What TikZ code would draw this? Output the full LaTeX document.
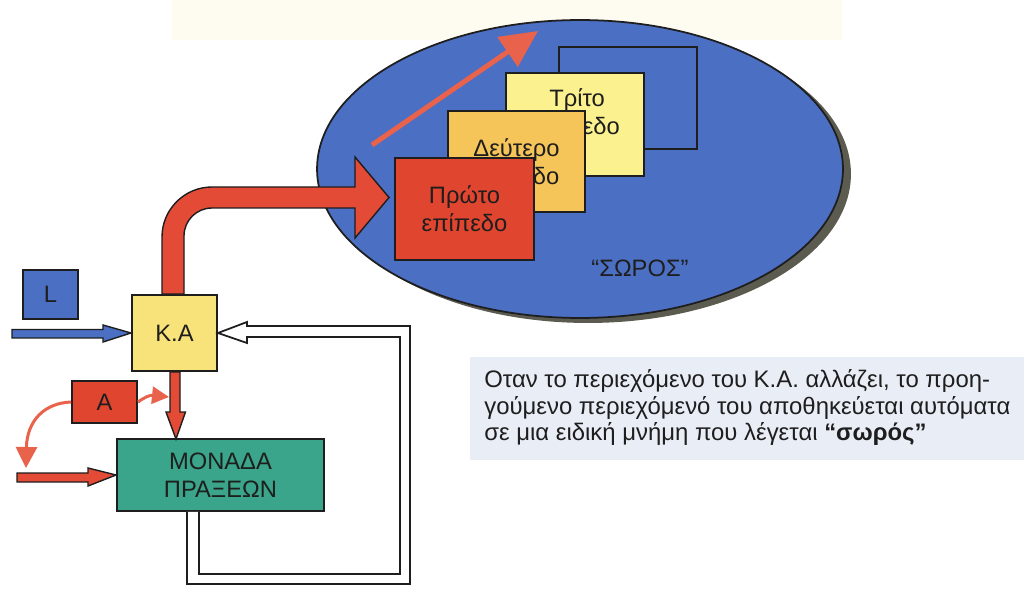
\documentclass[tikz,border=0pt]{standalone}
\usepackage{fontspec}
\setmainfont{Liberation Sans}
\usetikzlibrary{arrows.meta,calc,shapes.geometric}
\definecolor{ellblue}{HTML}{4B6FC2}
\definecolor{shadowc}{HTML}{5C5B50}
\definecolor{redA}{HTML}{E0452F}
\definecolor{redarrow}{HTML}{E34B36}
\definecolor{thinred}{HTML}{E8624C}
\definecolor{orangeB}{HTML}{F5C55A}
\definecolor{yellowC}{HTML}{FBF18E}
\definecolor{kayellow}{HTML}{F8E27A}
\definecolor{teal}{HTML}{3AA58A}
\definecolor{panel}{HTML}{E9EDF6}
\definecolor{topband}{HTML}{FEFCF0}
\definecolor{ink}{HTML}{1E1E1E}
\tikzset{
  box/.style={draw=ink, line width=1.1pt, inner sep=0pt, align=center, text=ink,
    font=\fontsize{13.5}{16}\selectfont},
  blockarrow/.style={draw=ink, line width=0.8pt},
}
\begin{document}
\begin{tikzpicture}[x=0.02cm,y=-0.02cm]
\useasboundingbox (0,0) rectangle (1024,594);
\fill[white] (0,0) rectangle (1024,594);
\fill[topband] (172,0) rectangle (842,40);

% heap ellipse with shadow
\node[ellipse, fill=shadowc, minimum width=10.52cm, minimum height=5.96cm, inner sep=0pt] (heapshadow) at (588,174) {};
\node[ellipse, draw=ink, line width=1pt, fill=ellblue, minimum width=10.52cm, minimum height=5.96cm, inner sep=0pt] (heap) at (580,169) {};

% thin rising arrow
\coordinate (rs) at (372,145);
\coordinate (re) at (538,31);
\draw[thinred, line width=0.1cm, -{Triangle[length=0.74cm,width=0.7cm]}] (rs) -- (re);

% stacked levels
\node[box, minimum width=2.76cm, minimum height=2.04cm] (back) at (628,98) {};
\node[box, fill=yellowC, minimum width=2.76cm, minimum height=2.06cm] (p3) at (575,124.5) {};
\node[text=ink, align=center, font=\fontsize{13.5}{16}\selectfont] (p3text) at (577,112) {Τρίτο\\επίπεδο};
\node[box, fill=orangeB, minimum width=2.74cm, minimum height=2.02cm] (p2) at (516.5,161.5) {Δεύτερο\\επίπεδο};
\node[box, fill=redA, minimum width=2.78cm, minimum height=2.04cm] (p1) at (464.5,209) {Πρώτο\\επίπεδο};

\node[text=ink, font=\fontsize{13.5}{16}\selectfont] (soros) at (640,268) {“ΣΩΡΟΣ”};

% lower-left boxes
\node[box, fill=ellblue, minimum width=1.10cm, minimum height=0.98cm] (L) at (50.5,294.5) {L};
\node[box, fill=kayellow, minimum width=1.70cm, minimum height=1.52cm] (ka) at (174.5,333) {Κ.Α};
\node[box, fill=redA, minimum width=1.30cm, minimum height=0.84cm] (a) at (104.5,402) {Α};
\node[box, fill=teal, minimum width=4.14cm, minimum height=1.44cm] (mon) at (220.5,475) {ΜΟΝΑΔΑ\\ΠΡΑΞΕΩΝ};

% big curved arrow from K.A to first level
\path[blockarrow, fill=redarrow]
  ($(ka.north)+(-12.5,0)$) -- (162,237) .. controls (162,209.4) and (184.4,187) .. (212,187)
  -- (355,187) -- (355,157) -- ($(p1.west)+(-5,-11.5)$) -- (355,238) -- (355,208) -- (212,208)
  .. controls (196.5,208) and (184,220.5) .. (184,236) -- ($(ka.north)+(9.5,0)$) -- cycle;

% blue input arrow into K.A
\path[blockarrow, fill=ellblue]
  (12,329.5) -- (103,329.5) -- (103,325) -- (ka.west) -- (103,342) -- (103,338) -- (12,338) -- cycle;

% red arrow K.A -> MONADA
\path[blockarrow, fill=redarrow]
  ($(ka.south)+(-4.5,0)$) -- (170,412) -- (166,412) -- (176,439) -- (185.5,412) -- (180,412) -- ($(ka.south)+(5.5,0)$) -- cycle;

% red input arrow into MONADA
\path[blockarrow, fill=redarrow]
  (17,473) -- (88,473) -- (88,468) -- (mon.west) -- (88,486) -- (88,482) -- (17,482) -- cycle;

% thin curved arrows from A
\draw[thinred, line width=0.06cm, -{Triangle[length=0.34cm,width=0.34cm]}]
  (a.east) .. controls (145,397) and (150,395) .. (169,397);
\draw[thinred, line width=0.06cm, -{Triangle[length=0.42cm,width=0.42cm]}]
  (a.west) .. controls (45,403) and (27,420) .. (26,468);

% hollow feedback arrow MONADA -> K.A
\path[draw=ink, line width=1pt, fill=white]
  ($(mon.south)+(-33.5,0)$) -- (187,584) -- (410,584) -- (410,326) -- (247,326) -- (247,322)
  -- (ka.east) -- (247,343) -- (247,337) -- (400,337) -- (400,574) -- (199,574)
  -- ($(mon.south)+(-21.5,0)$);

% explanatory text panel
\fill[panel] (470,357) rectangle (1024,460);
\node[anchor=north west, inner sep=0pt, align=left, text=ink,
  font=\fontsize{13.6}{15.2}\selectfont] (note) at (484,369)
  {Οταν το περιεχόμενο του Κ.Α. αλλάζει, το προη-\\
   γούμενο περιεχόμενό του αποθηκεύεται αυτόματα\\
   σε μια ειδική μνήμη που λέγεται \textbf{“σωρός”}};
\end{tikzpicture}
\end{document}
